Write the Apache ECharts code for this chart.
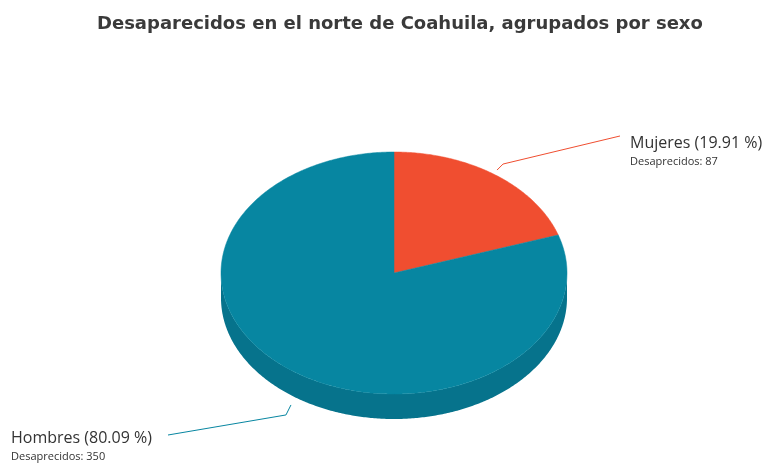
<!DOCTYPE html>
<html><head><meta charset="utf-8">
<script src="https://cdn.jsdelivr.net/npm/echarts@6/dist/echarts.min.js"></script>
<style>html,body{margin:0;padding:0;background:#fff}#c{width:762px;height:467px}</style>
</head><body><div id="c"></div>
<script>
const titleText = 'Desaparecidos en el norte de Coahuila, agrupados por sexo';
const categories = ['Mujeres', 'Hombres'];
const values = [87, 350];
const valueLabel = 'Desaprecidos';
const topColors = ['#F04E30', '#0786A1'];
const sideColors = ['#C9401F', '#06738C'];

const total = values.reduce((a, b) => a + b, 0);
const starts = [];
let acc = 0;
values.forEach(v => { starts.push(acc); acc += v; });

const FONT = '"Open Sans", sans-serif';
const TITLE_FONT = '"DejaVu Sans", sans-serif';
const CX = 394, CY = 273, RX = 173, RY = 121, DEPTH = 25;

function pt(a, dy) { return [CX + RX * Math.sin(a), CY - RY * Math.cos(a) + (dy || 0)]; }
function arc(a0, a1, dy) {
  const n = Math.max(2, Math.ceil(Math.abs(a1 - a0) / 0.01));
  const out = [];
  for (let k = 0; k <= n; k++) out.push(pt(a0 + (a1 - a0) * k / n, dy));
  return out;
}

function renderItem(params, api) {
  const i = params.dataIndex;
  const v = api.value(1);
  const a0 = starts[i] / total * Math.PI * 2;
  const a1 = (starts[i] + v) / total * Math.PI * 2;
  const children = [];
  const s = Math.max(a0, Math.PI / 2), e = Math.min(a1, Math.PI * 1.5);
  if (s < e) {
    const pts = arc(s, e, 0).concat(arc(e, s, DEPTH));
    children.push({ type: 'polygon', z2: 1, shape: { points: pts }, style: { fill: sideColors[i] } });
  }
  children.push({ type: 'polygon', z2: 10, shape: { points: [[CX, CY]].concat(arc(a0, a1, 0)) }, style: { fill: topColors[i], stroke: topColors[i], lineWidth: 0.5 } });
  const mid = (a0 + a1) / 2;
  const lower = Math.cos(mid) < 0;
  const right = Math.sin(mid) >= 0;
  const p0 = [CX + (RX + 3) * Math.sin(mid), CY - (RY + 6) * Math.cos(mid) + (lower ? DEPTH + 4 : 0)];
  const p1 = [p0[0] + (right ? 6 : -5), p0[1] + (lower ? 10 : -6)];
  const p2 = [CX + (right ? 1 : -1) * (RX + 53), CY - (RY + 48) * Math.cos(mid) + (lower ? DEPTH : 0)];
  children.push({ type: 'polyline', z2: 12, shape: { points: [p0, p1, p2] }, style: { stroke: topColors[i], lineWidth: 1, fill: null } });
  const pct = (v / total * 100).toFixed(2);
  const t1 = categories[i] + ' (' + pct + ' %)';
  const t2 = valueLabel + ': ' + v;
  const tx = right ? p2[0] + 10 : 11;
  children.push({ type: 'text', z2: 20, style: { x: tx, y: p2[1] + (right ? 7 : 3), text: t1, fill: '#333', font: '16px ' + FONT, align: 'left', verticalAlign: 'middle' } });
  children.push({ type: 'text', z2: 20, style: { x: tx, y: p2[1] + (right ? 26 : 22), text: t2, fill: '#333', font: '11px ' + FONT, align: 'left', verticalAlign: 'middle' } });
  return { type: 'group', children: children };
}

const chart = echarts.init(document.getElementById('c'), null, { renderer: 'canvas' });
chart.setOption({
  backgroundColor: '#fff',
  animation: false,
  title: { text: titleText, left: 92, top: 10, textStyle: { fontFamily: TITLE_FONT, fontSize: 18, fontWeight: 'bold', color: '#3a3a3a' } },
  series: [{
    type: 'custom',
    coordinateSystem: 'none',
    renderItem: renderItem,
    data: values.map((v, i) => [i, v])
  }]
});
</script>
</body></html>
